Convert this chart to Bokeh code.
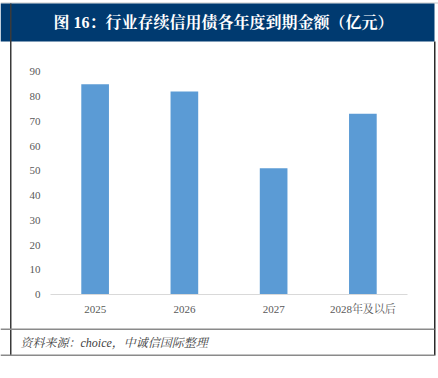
from bokeh.plotting import figure
from bokeh.models import Range1d, LinearAxis, FixedTicker, ColumnDataSource
from bokeh.core.properties import value
from bokeh.embed import file_html
from bokeh.resources import INLINE

title_text = "图 16：行业存续信用债各年度到期金额（亿元）"
source_text = "资料来源：choice，中诚信国际整理"
categories = ["2025", "2026", "2027", "2028年及以后"]
amounts = [85, 82, 51, 73]
y_ticks = [0, 10, 20, 30, 40, 50, 60, 70, 80, 90]

W, H = 438, 378
SERIF = "'Liberation Serif', 'Times New Roman', 'Noto Serif CJK SC', 'Noto Sans CJK SC', serif"

# plot-area placement on the canvas (pixels)
PX_LEFT, PX_RIGHT = 50.0, 407.0
PX_BOTTOM, PX_TOP = 294.0, 71.3
Y_MAX = 90.0

n = len(categories)
step = (PX_RIGHT - PX_LEFT) / n
y_scale = (PX_BOTTOM - PX_TOP) / Y_MAX

# canvas-pixel ranges for the page decoration (y grows downward)
p = figure(width=W, height=H, x_range=Range1d(0, W), y_range=Range1d(H, 0),
           x_axis_location=None, y_axis_location=None, min_border=0,
           output_backend="svg", toolbar_location=None)
p.outline_line_color = None
p.background_fill_color = "white"
p.border_fill_color = "white"
p.xgrid.visible = False
p.ygrid.visible = False

# data ranges for the chart, mapped onto the same canvas
p.extra_x_ranges = {"cat": Range1d(-0.5 - PX_LEFT / step, n - 0.5 + (W - PX_RIGHT) / step)}
p.extra_y_ranges = {"val": Range1d(-(H - PX_BOTTOM) / y_scale, PX_BOTTOM / y_scale)}

src = ColumnDataSource(dict(pos=list(range(n)), amt=amounts))
p.vbar(x="pos", top="amt", bottom=0, width=0.31, source=src,
       fill_color="#5B9BD5", line_color=None,
       x_range_name="cat", y_range_name="val")

# y axis
yax = LinearAxis(x_range_name="cat", y_range_name="val", fixed_location=-0.5,
                 ticker=FixedTicker(ticks=y_ticks), bounds=(0, Y_MAX))
yax.axis_line_color = None
yax.major_tick_line_color = None
yax.minor_tick_line_color = None
yax.major_tick_out = 0
yax.major_tick_in = 0
yax.major_label_standoff = 10
yax.major_label_text_color = "#595959"
yax.major_label_text_font = SERIF
yax.major_label_text_font_size = "11px"
p.add_layout(yax, "left")

# x axis
xax = LinearAxis(x_range_name="cat", y_range_name="val", fixed_location=0,
                 ticker=FixedTicker(ticks=list(range(n))), bounds=(-0.5, n - 0.5))
xax.major_label_overrides = {i: c for i, c in enumerate(categories)}
xax.axis_line_color = "#D9D9D9"
xax.axis_line_width = 1
xax.major_tick_line_color = None
xax.minor_tick_line_color = None
xax.major_tick_out = 0
xax.major_tick_in = 0
xax.major_label_standoff = 8
xax.major_label_text_color = "#595959"
xax.major_label_text_font = SERIF
xax.major_label_text_font_size = "11px"
p.add_layout(xax, "below")

# page frame: (left, right, top, bottom, colour)
frame_boxes = [
    (0, W, 2, 3, "#C8C8C8"),            # top thin rule
    (0, 434, 3, 41, "#003A70"),         # title band
    (9.5, 11, 3, 355, "#3A3A3A"),       # left vertical rule
    (433.5, 435, 41, 355, "#2A2A2A"),   # right vertical rule
    (0, 434, 328, 329.5, "#8A8A8A"),    # rule above source
    (0, 434, 354, 355.5, "#8A8A8A"),    # bottom rule
]
p.quad(left=[b[0] for b in frame_boxes], right=[b[1] for b in frame_boxes],
       top=[b[2] for b in frame_boxes], bottom=[b[3] for b in frame_boxes],
       fill_color=[b[4] for b in frame_boxes], line_color=None)

p.text(x=[223], y=[22], text=[title_text], text_align="center", text_baseline="middle",
       text_color="white", text_font=value(SERIF), text_font_size="16px",
       text_font_style="bold")
p.text(x=[20], y=[342], text=[source_text], text_align="left", text_baseline="middle",
       text_color="#404040", text_font=value(SERIF), text_font_size="12px",
       text_font_style="italic")

open("out.html", "w").write(file_html(p, INLINE))
